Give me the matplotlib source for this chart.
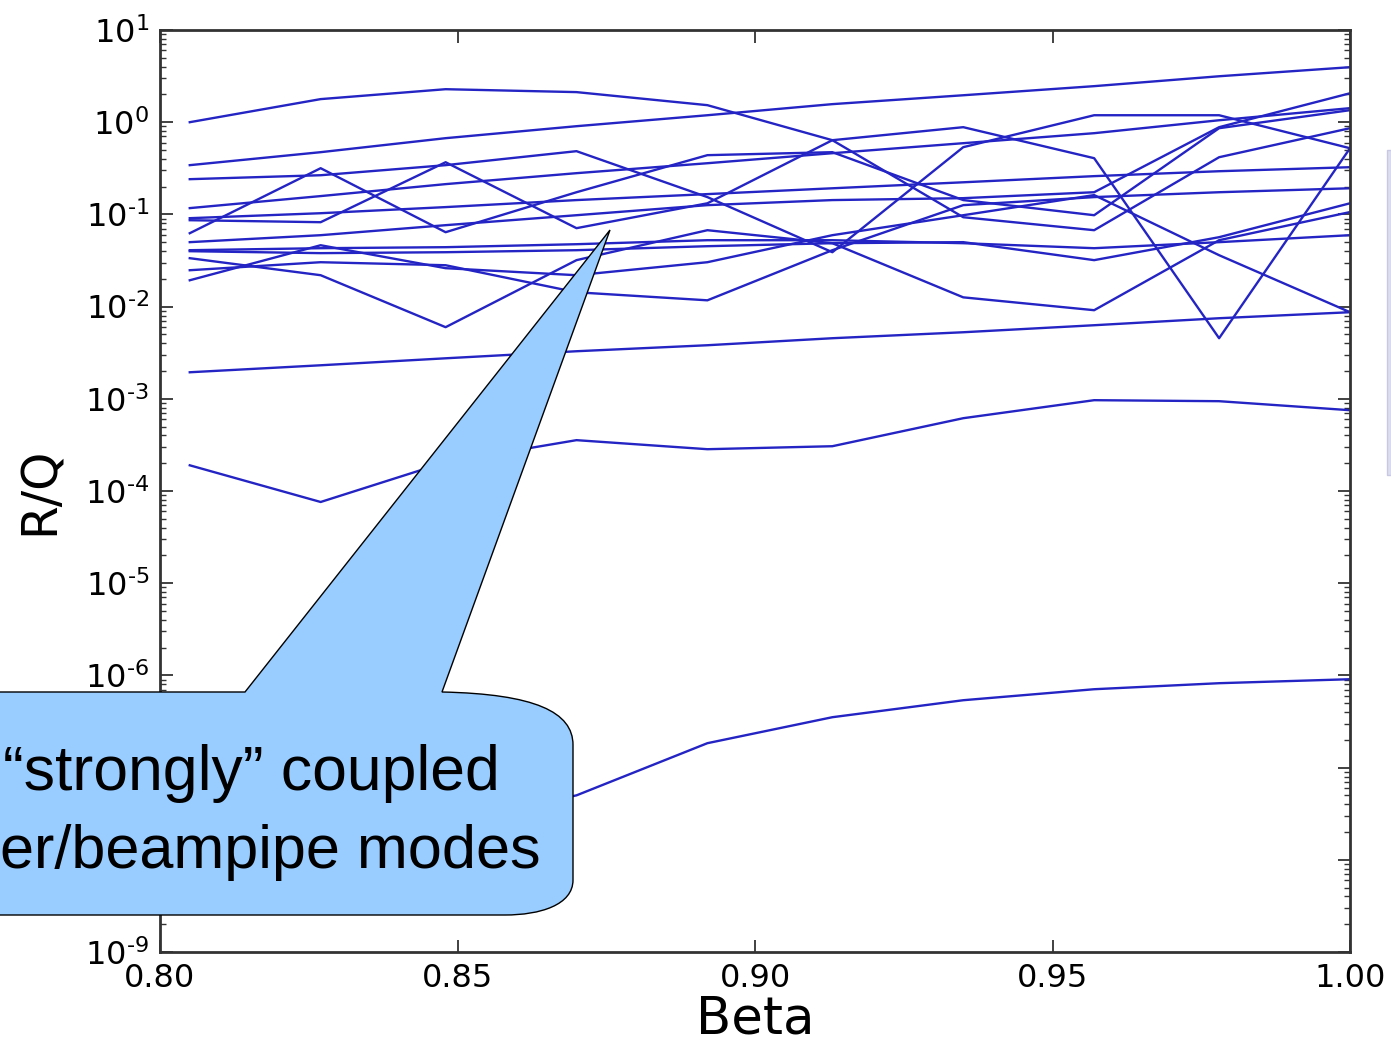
import matplotlib
matplotlib.use("Agg")
import matplotlib.pyplot as plt
from matplotlib.path import Path
from matplotlib.patches import PathPatch, Rectangle
from matplotlib.ticker import LogLocator, NullFormatter, FormatStrFormatter, FuncFormatter
import numpy as np

plt.rcParams['axes.unicode_minus'] = False
plt.rcParams['font.family'] = ['DejaVu Sans']

# beta values where the modes were computed
beta = [0.805, 0.827, 0.848, 0.870, 0.892, 0.913, 0.935, 0.957, 0.978, 1.000]

# R/Q of each mode
mode_01 = [1.0, 1.78, 2.28, 2.12, 1.53, 0.638, 0.0932, 0.0674, 0.417, 0.861]
mode_02 = [0.342, 0.473, 0.671, 0.905, 1.19, 1.57, 1.96, 2.46, 3.15, 3.95]
mode_03 = [0.241, 0.266, 0.342, 0.485, 0.154, 0.0389, 0.536, 1.19, 1.19, 0.522]
mode_04 = [0.117, 0.158, 0.213, 0.280, 0.359, 0.461, 0.592, 0.760, 1.05, 1.42]
mode_05 = [0.0625, 0.317, 0.0641, 0.174, 0.439, 0.473, 0.143, 0.098, 0.861, 1.35]
mode_06 = [0.0865, 0.0823, 0.368, 0.0709, 0.132, 0.638, 0.883, 0.407, 0.00454, 0.522]
mode_07 = [0.0910, 0.103, 0.120, 0.143, 0.166, 0.192, 0.223, 0.260, 0.294, 0.325]
mode_08 = [0.0500, 0.0595, 0.0764, 0.098, 0.126, 0.143, 0.150, 0.174, 0.883, 2.06]
mode_09 = [0.0409, 0.0430, 0.0441, 0.0475, 0.0525, 0.0525, 0.0487, 0.0430, 0.0500, 0.0595]
mode_10 = [0.0399, 0.0380, 0.0389, 0.0409, 0.0452, 0.0487, 0.0500, 0.0319, 0.0566, 0.132]
mode_11 = [0.0335, 0.0219, 0.00598, 0.0319, 0.0674, 0.0487, 0.0126, 0.00914, 0.0525, 0.106]
mode_12 = [0.0248, 0.0303, 0.0281, 0.0143, 0.0117, 0.0409, 0.126, 0.154, 0.174, 0.192]
mode_13 = [0.0193, 0.0463, 0.0261, 0.0219, 0.0303, 0.0595, 0.098, 0.162, 0.0361, 0.00870]
mode_14 = [0.00194, 0.00231, 0.00275, 0.00328, 0.00381, 0.00454, 0.00527, 0.00628, 0.00748, 0.00869]
mode_15 = [1.9e-4, 7.6e-5, 2.05e-4, 3.56e-4, 2.84e-4, 3.06e-4, 6.16e-4, 9.66e-4, 9.42e-4, 7.52e-4]
mode_16 = [8e-9, 1.4e-8, 2.5e-8, 5.0e-8, 1.84e-7, 3.52e-7, 5.38e-7, 7.08e-7, 8.23e-7, 9.09e-7]

modes = [mode_01, mode_02, mode_03, mode_04, mode_05, mode_06, mode_07, mode_08,
         mode_09, mode_10, mode_11, mode_12, mode_13, mode_14, mode_15, mode_16]

W, H = 1391, 1045
fig = plt.figure(figsize=(W / 100, H / 100), dpi=100)
ax = fig.add_axes([160 / W, 1 - 952 / H, (1350 - 160) / W, (952 - 30) / H])

for m in modes:
    ax.plot(beta, m, color='#2424c4', lw=1.7)

ax.set_yscale('log')
ax.set_xlim(0.80, 1.00)
ax.set_ylim(1e-9, 1e1)
ax.set_xticks([0.80, 0.85, 0.90, 0.95, 1.00])
ax.xaxis.set_major_formatter(FormatStrFormatter('%.2f'))
ax.set_yticks([10.0 ** k for k in range(-9, 2)])


def dec_label(v, pos):
    k = int(round(np.log10(v)))
    if k < 0:
        return r'$10^{\text{-}%d}$' % (-k)
    return r'$10^{%d}$' % k


ax.yaxis.set_major_formatter(FuncFormatter(dec_label))
ax.yaxis.set_minor_locator(LogLocator(base=10, subs=range(2, 10), numticks=100))
ax.yaxis.set_minor_formatter(NullFormatter())

ax.tick_params(which='both', direction='in', top=True, right=True,
               labelsize=23, pad=8, color='#333333')
ax.tick_params(which='major', length=9, width=1.3)
ax.tick_params(which='minor', length=4.5, width=1.0)
for s in ax.spines.values():
    s.set_linewidth(2)
    s.set_color('#333333')

ax.set_xlabel('Beta', fontsize=37, labelpad=0)
ax.set_ylabel('R/Q', fontsize=35, labelpad=15)


def px(x, y):
    return (x / W, 1 - y / H)


# callout balloon pasted over the plot
verts = [px(-5, 692), px(245, 692), px(610, 230), px(442, 692),
         px(535, 694), px(573, 712), px(573, 745),
         px(573, 880),
         px(573, 905), px(540, 915), px(505, 915),
         px(-5, 915), px(-5, 692)]
codes = [Path.MOVETO, Path.LINETO, Path.LINETO, Path.LINETO,
         Path.CURVE4, Path.CURVE4, Path.CURVE4,
         Path.LINETO,
         Path.CURVE4, Path.CURVE4, Path.CURVE4,
         Path.LINETO, Path.CLOSEPOLY]
balloon = PathPatch(Path(verts, codes), facecolor='#99ccff', edgecolor='black',
                    lw=1.0, transform=fig.transFigure, zorder=5)
fig.add_artist(balloon)

fig.text(*px(3, 790), '\u201cstrongly\u201d coupled', fontsize=45,
         family='Liberation Sans', ha='left', va='baseline', zorder=6)
fig.text(*px(0, 868), 'er/beampipe modes', fontsize=44,
         family='Liberation Sans', ha='left', va='baseline', zorder=6)

# edge of the neighbouring slide panel on the right
fig.add_artist(Rectangle(px(1387, 475), 4 / W, (475 - 150) / H,
                         transform=fig.transFigure, facecolor='#dedef0',
                         edgecolor='#c8c8e2', lw=1.0, zorder=5))

fig.savefig('out.png', dpi=100)
